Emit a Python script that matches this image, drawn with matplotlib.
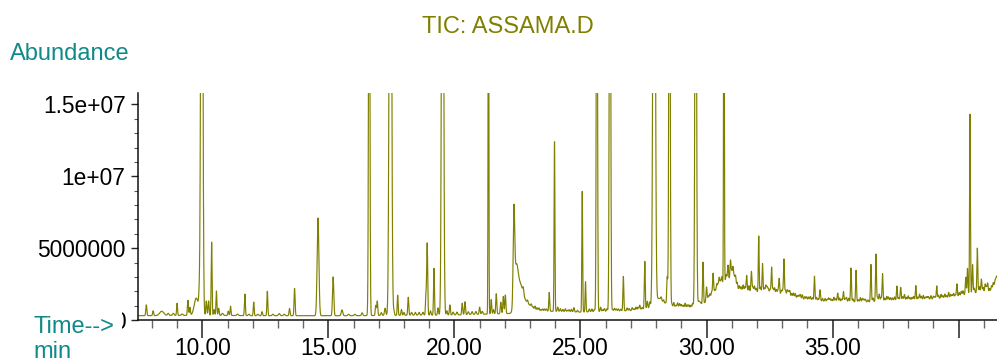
import numpy as np
import matplotlib
matplotlib.use("Agg")
import matplotlib.pyplot as plt
from matplotlib.patches import Rectangle
from matplotlib.ticker import FixedLocator, FixedFormatter, MultipleLocator

plt.rcParams["font.family"] = ["Liberation Sans", "DejaVu Sans"]

OLIVE = "#808000"
TEAL = "#108a88"

# run window (min)
T_START, T_END = 7.45, 41.52

# baseline level (min, abundance)
base_t = [7.45, 10.0, 12.0, 14.0, 16.0, 18.0, 20.0, 21.0, 22.2, 23.0, 24.0, 25.0,
          26.0, 27.0, 28.3, 29.4, 29.7, 30.0, 30.4, 30.6, 30.8, 31.05, 31.25, 31.6,
          32.5, 33.2, 33.6, 34.5, 36.4, 37.2, 38.5, 39.8, 40.2, 40.9, 41.2, 41.52]
base_v = [3.0e5, 3.3e5, 3.0e5, 3.0e5, 3.0e5, 3.3e5, 3.5e5, 4.0e5, 4.5e5, 6.5e5, 6.0e5, 5.5e5,
          6.0e5, 6.5e5, 9.5e5, 8.5e5, 9.0e5, 1.3e6, 2.0e6, 2.5e6, 2.8e6, 2.9e6, 2.1e6, 2.0e6,
          1.9e6, 1.7e6, 1.5e6, 1.3e6, 1.25e6, 1.35e6, 1.4e6, 1.55e6, 1.75e6, 1.95e6, 1.85e6, 2.6e6]

# off-scale peaks (retention time, height, sigma)
big_t = [9.98, 16.62, 17.46, 19.53, 21.35, 25.65, 26.17, 27.92, 28.53, 29.57, 30.69]
big_h = [5.0e7, 3.5e7, 5.0e7, 5.0e7, 3.0e7, 3.5e7, 4.0e7, 5.0e7, 3.5e7, 4.0e7, 3.0e7]
big_s = [0.035, 0.024, 0.040, 0.035, 0.014, 0.022, 0.025, 0.040, 0.025, 0.028, 0.014]

# on-scale peaks (retention time, height above baseline, sigma)
pk_t = [7.78, 8.05, 8.39, 8.65, 8.85, 9.00, 9.20, 9.43, 9.51, 9.76, 9.89,
        10.16, 10.25, 10.37, 10.47, 10.56, 10.65, 10.80, 11.03, 11.12, 11.40, 11.69,
        11.85, 12.04, 12.20, 12.37, 12.58, 12.80, 13.05, 13.25, 13.46, 13.66, 14.59,
        15.19, 15.54, 15.80, 16.05, 16.34, 16.88, 16.94, 17.10, 17.25, 17.60, 17.75,
        17.90, 18.00, 18.17, 18.30, 18.45, 18.60, 18.75, 18.87, 18.92, 19.05, 19.19,
        19.35, 19.70, 19.82, 19.95, 20.10, 20.31, 20.42, 20.55, 20.70, 20.85, 21.00,
        21.10, 21.46, 21.55, 21.66, 21.84, 21.94, 22.02,
        22.36, 22.45, 22.60, 22.80, 22.73, 22.90, 23.05, 23.20, 23.35, 23.50, 23.65,
        23.76, 23.97, 24.10, 24.20, 24.40, 24.55, 24.74, 25.07, 25.20, 25.35, 25.45,
        25.80, 25.95, 26.35, 26.50, 26.70, 26.85, 27.05, 27.20, 27.35, 27.55, 27.65,
        27.75, 28.10, 28.30, 28.44, 28.70, 28.85, 29.00, 29.15, 29.30, 29.45, 29.70,
        29.86, 30.00, 30.13, 30.26, 30.40, 30.50, 30.60, 30.85, 30.95, 31.05, 31.15,
        31.30, 31.45, 31.59, 31.78, 31.90, 32.07, 32.22, 32.35, 32.45, 32.58, 32.70,
        32.88, 32.97, 33.07, 33.20, 33.30, 33.45, 33.60, 33.72, 33.90, 34.05, 34.28,
        34.50, 34.70, 34.90, 35.05, 35.20, 35.43, 35.55, 35.73, 35.93, 36.10, 36.30,
        36.52, 36.72, 36.85, 36.98, 37.15, 37.30, 37.55, 37.70, 37.85, 38.00, 38.15,
        38.30, 38.45, 38.60, 38.80, 39.00, 39.13, 39.30, 39.45, 39.60, 39.80, 39.93,
        40.10, 40.28, 40.35, 40.45, 40.55, 40.74, 40.90, 41.05, 41.15, 41.30, 41.50]
pk_h = [7.5e5, 3.3e5, 3.0e5, 1.5e5, 1.5e5, 8.5e5, 1.0e5, 1.05e6, 5.5e5, 1.2e6, 1.3e6,
        1.0e6, 1.0e6, 5.1e6, 4.0e5, 1.7e6, 5.0e5, 1.5e5, 3.0e5, 6.5e5, 1.0e5, 1.5e6,
        1.0e5, 9.5e5, 1.0e5, 2.8e5, 1.7e6, 1.0e5, 1.5e5, 1.0e5, 5.0e5, 1.9e6, 6.8e6,
        2.7e6, 4.0e5, 1.0e5, 1.0e5, 2.0e5, 7.0e5, 1.0e6, 2.0e5, 5.0e5, 3.0e5, 1.4e6,
        4.0e5, 2.0e5, 1.25e6, 2.0e5, 2.0e5, 2.0e5, 2.0e5, 1.4e6, 5.0e6, 3.0e5, 3.25e6,
        5.0e5, 3.0e5, 7.0e5, 2.0e5, 2.0e5, 8.0e5, 9.0e5, 2.0e5, 2.0e5, 2.0e5, 5.0e5,
        2.0e5, 1.0e6, 3.0e5, 1.4e6, 8.0e5, 1.2e6, 1.3e6,
        6.2e6, 2.6e6, 1.5e6, 6.0e5, 4.0e5, 2.0e5, 2.0e5, 2.5e5, 2.0e5, 1.5e5, 1.5e5,
        1.3e6, 1.18e7, 3.0e5, 2.0e5, 2.0e5, 1.5e5, 3.0e5, 8.4e6, 2.1e6, 2.0e5, 2.0e5,
        3.0e5, 2.0e5, 2.0e5, 1.5e5, 2.4e6, 2.0e5, 2.0e5, 2.0e5, 3.0e5, 3.3e6, 5.0e5,
        4.0e5, 6.0e5, 2.0e5, 2.0e6, 3.0e5, 3.0e5, 2.0e5, 3.0e5, 2.0e5, 3.0e5, 4.0e5,
        2.9e6, 1.0e6, 3.0e5, 1.5e6, 5.0e5, 7.0e5, 5.0e5, 1.0e6, 1.3e6, 8.0e5, 6.0e5,
        3.0e5, 4.0e5, 1.1e6, 1.4e6, 4.0e5, 3.9e6, 2.0e6, 5.0e5, 3.0e5, 1.8e6, 4.0e5,
        1.1e6, 3.0e5, 2.5e6, 4.0e5, 4.0e5, 3.0e5, 2.0e5, 3.0e5, 2.0e5, 2.0e5, 1.7e6,
        8.0e5, 2.0e5, 2.0e5, 3.0e5, 6.0e5, 7.0e5, 3.0e5, 2.35e6, 2.2e6, 3.0e5, 2.0e5,
        2.6e6, 3.3e6, 5.0e5, 1.9e6, 3.0e5, 2.0e5, 1.0e6, 9.0e5, 4.0e5, 3.0e5, 2.0e5,
        1.0e6, 4.0e5, 3.0e5, 2.0e5, 2.0e5, 9.0e5, 3.0e5, 3.0e5, 4.0e5, 3.0e5, 9.0e5,
        3.0e5, 1.2e6, 1.8e6, 1.25e7, 2.0e6, 3.1e6, 9.0e5, 6.0e5, 7.0e5, 3.0e5, 5.0e5]
pk_s = [0.020, 0.020, 0.080, 0.030, 0.030, 0.018, 0.030, 0.020, 0.020, 0.080, 0.030,
        0.020, 0.020, 0.018, 0.020, 0.018, 0.020, 0.030, 0.020, 0.018, 0.030, 0.018,
        0.030, 0.018, 0.030, 0.020, 0.018, 0.030, 0.030, 0.030, 0.020, 0.020, 0.035,
        0.025, 0.030, 0.030, 0.030, 0.025, 0.020, 0.020, 0.025, 0.025, 0.020, 0.018,
        0.020, 0.020, 0.020, 0.025, 0.025, 0.025, 0.025, 0.018, 0.020, 0.020, 0.018,
        0.020, 0.020, 0.020, 0.025, 0.025, 0.020, 0.020, 0.025, 0.025, 0.025, 0.020,
        0.025, 0.018, 0.020, 0.020, 0.020, 0.020, 0.020,
        0.030, 0.070, 0.110, 0.200, 0.020, 0.020, 0.020, 0.020, 0.020, 0.020, 0.020,
        0.018, 0.016, 0.020, 0.020, 0.020, 0.020, 0.020, 0.016, 0.016, 0.020, 0.020,
        0.020, 0.020, 0.020, 0.020, 0.018, 0.020, 0.020, 0.020, 0.020, 0.018, 0.020,
        0.020, 0.150, 0.020, 0.020, 0.020, 0.020, 0.020, 0.020, 0.020, 0.020, 0.060,
        0.018, 0.020, 0.020, 0.020, 0.020, 0.020, 0.020, 0.020, 0.020, 0.020, 0.020,
        0.020, 0.020, 0.020, 0.020, 0.020, 0.016, 0.018, 0.020, 0.020, 0.018, 0.020,
        0.020, 0.020, 0.018, 0.020, 0.020, 0.020, 0.020, 0.020, 0.020, 0.020, 0.018,
        0.020, 0.020, 0.020, 0.020, 0.020, 0.020, 0.020, 0.018, 0.018, 0.020, 0.020,
        0.018, 0.018, 0.020, 0.018, 0.020, 0.020, 0.018, 0.020, 0.020, 0.020, 0.020,
        0.018, 0.020, 0.020, 0.020, 0.020, 0.018, 0.020, 0.020, 0.020, 0.020, 0.018,
        0.020, 0.018, 0.018, 0.016, 0.018, 0.018, 0.020, 0.020, 0.020, 0.020, 0.030]

# low-level wiggle on the late part of the run (retention time, height)
ns_t = [23.12, 23.28, 23.43, 23.58, 24.30, 24.48, 24.64, 24.88, 25.55, 25.88,
        26.05, 26.28, 26.42, 26.60, 26.93, 27.12, 27.28, 27.45, 28.20, 28.37,
        28.62, 28.78, 28.93, 29.07, 29.23, 29.38, 30.07, 30.20, 30.33, 30.45,
        30.55, 30.78, 31.00, 31.10, 31.22, 31.37, 31.52, 31.68, 31.84, 31.97,
        32.14, 32.29, 32.40, 32.52, 32.64, 32.77, 32.83, 33.02, 33.13, 33.25,
        33.38, 33.52, 33.66, 33.80, 33.97, 34.12, 34.20, 34.36, 34.43, 34.60,
        34.78, 34.84, 34.97, 35.12, 35.28, 35.36, 35.50, 35.64, 35.81, 36.02,
        36.18, 36.24, 36.40, 36.60, 36.78, 36.92, 37.07, 37.22, 37.38, 37.46,
        37.62, 37.78, 37.93, 38.07, 38.22, 38.38, 38.52, 38.68, 38.74, 38.90,
        39.06, 39.20, 39.37, 39.52, 39.68, 39.74, 39.87, 40.02, 40.17, 40.62,
        40.82, 40.97, 41.10, 41.22, 41.37, 41.44]
ns_h = [1.2e5, 1.8e5, 1.0e5, 1.5e5, 1.5e5, 1.0e5, 1.8e5, 1.2e5, 1.5e5, 1.2e5,
        1.8e5, 1.0e5, 1.5e5, 1.2e5, 1.5e5, 1.0e5, 1.8e5, 1.2e5, 2.0e5, 1.5e5,
        2.0e5, 1.2e5, 2.5e5, 1.5e5, 2.0e5, 1.8e5, 2.5e5, 3.0e5, 2.5e5, 3.5e5,
        3.0e5, 4.0e5, 5.0e5, 3.5e5, 4.0e5, 2.5e5, 3.0e5, 4.0e5, 3.0e5, 2.5e5,
        3.5e5, 3.0e5, 4.0e5, 2.5e5, 3.5e5, 3.0e5, 2.5e5, 3.0e5, 3.5e5, 3.0e5,
        2.5e5, 3.0e5, 2.5e5, 3.0e5, 2.0e5, 2.5e5, 1.8e5, 2.5e5, 1.5e5, 2.0e5,
        1.5e5, 2.5e5, 1.5e5, 2.0e5, 2.5e5, 1.8e5, 2.0e5, 2.5e5, 2.0e5, 1.5e5,
        2.5e5, 2.0e5, 1.5e5, 2.5e5, 3.0e5, 2.5e5, 2.0e5, 2.5e5, 1.8e5, 2.5e5,
        2.0e5, 2.5e5, 2.0e5, 1.8e5, 2.5e5, 2.0e5, 2.5e5, 1.8e5, 2.0e5, 2.5e5,
        1.8e5, 2.5e5, 2.0e5, 1.8e5, 2.5e5, 2.0e5, 1.8e5, 2.5e5, 3.0e5, 3.5e5,
        4.0e5, 3.5e5, 4.0e5, 3.0e5, 3.5e5, 3.0e5]

x_major = [10, 15, 20, 25, 30, 35, 40]
x_major_labels = ["10.00", "15.00", "20.00", "25.00", "30.00", "35.00", ""]
y_major = [0, 5e6, 1e7, 1.5e7]
y_major_labels = ["0", "5000000", "1e+07", "1.5e+07"]


def tic_trace(t):
    y = np.interp(t, base_t, base_v)
    for c, h, s in zip(big_t + pk_t, big_h + pk_h, big_s + pk_s):
        y = y + h * np.exp(-0.5 * ((t - c) / s) ** 2)
    for c, h in zip(ns_t, ns_h):
        y = y + h * np.exp(-0.5 * ((t - c) / 0.02) ** 2)
    return y


W, H = 997, 362
fig = plt.figure(figsize=(W / 100, H / 100), dpi=100)
ax = fig.add_axes([138 / W, 1 - 320 / H, (W - 138) / W, (320 - 93) / H])

t = np.arange(T_START, T_END, 0.005)
ax.plot(t, tic_trace(t), color=OLIVE, lw=0.85)

ax.set_xlim(T_START, T_END)
ax.set_ylim(0, 1.58e7)
ax.spines[["top", "right"]].set_visible(False)
for sp in ("left", "bottom"):
    ax.spines[sp].set_linewidth(1.1)
    ax.spines[sp].set_color("#111111")

ax.xaxis.set_major_locator(FixedLocator(x_major))
ax.xaxis.set_major_formatter(FixedFormatter(x_major_labels))
ax.xaxis.set_minor_locator(MultipleLocator(1))
ax.yaxis.set_major_locator(FixedLocator(y_major))
ax.yaxis.set_major_formatter(FixedFormatter(y_major_labels))
ax.yaxis.set_minor_locator(MultipleLocator(1e6))

ax.tick_params(axis="x", which="major", length=13, width=1.1, color="#222222",
               labelsize=16.4, pad=-1)
ax.tick_params(axis="x", which="minor", length=6, width=1.0, color="#666666")
ax.tick_params(axis="y", which="major", length=5, width=1.0, color="#222222",
               labelsize=16.4, pad=4)
ax.tick_params(axis="y", which="minor", length=3, width=0.8, color="#555555")

fig.text(508 / W, 1 - 33 / H, "TIC: ASSAMA.D", color=OLIVE, fontsize=17,
         ha="center", va="baseline")
fig.text(10 / W, 1 - 60 / H, "Abundance", color=TEAL, fontsize=17, va="baseline")

# the "Time-->" box hides the left half of the zero label
fig.add_artist(Rectangle((28 / W, 1 - 336 / H), (121.5 - 28) / W, 30 / H,
                         transform=fig.transFigure, facecolor="white",
                         edgecolor="none", zorder=5))
fig.text(33 / W, 1 - 333 / H, "Time-->", color=TEAL, fontsize=17,
         va="baseline", zorder=6)
fig.text(33 / W, 1 - 358 / H, "min", color=TEAL, fontsize=17,
         va="baseline", zorder=6)

fig.savefig("out.png", dpi=100)
